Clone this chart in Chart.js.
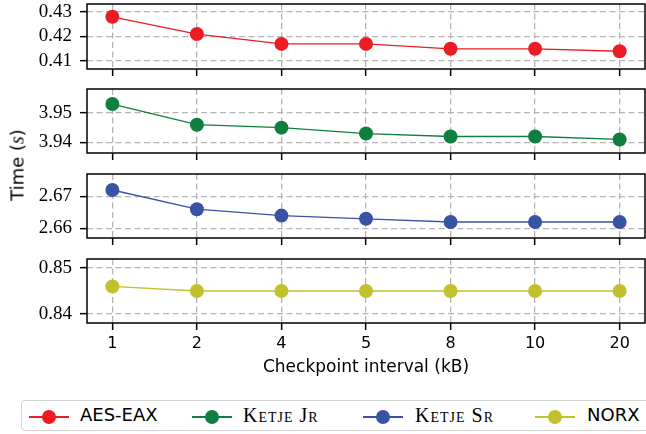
<!DOCTYPE html>
<html>
<head>
<meta charset="utf-8">
<script src="https://cdn.jsdelivr.net/npm/chart.js@4"></script>
<style>
  html, body { margin: 0; padding: 0; background: #fff; overflow: hidden; }
  #wrap { position: relative; width: 646px; height: 434px; overflow: hidden; }
  .panel { position: absolute; left: 0; width: 652px; }
  #ylabel {
    position: absolute; left: 17px; top: 165px;
    transform: translate(-50%, -50%) rotate(-90deg);
    font: 18px "DejaVu Sans"; white-space: nowrap; color: #000;
  }
  #ylabel i { font-family: "Liberation Serif"; font-size: 20px; }
  #legend {
    position: absolute; left: 21px; top: 400px; width: 640px; height: 31px;
    border: 1.5px solid #d4d4d4; border-radius: 4px; box-sizing: border-box;
  }
  .item { position: absolute; top: 0; height: 31px; }
  .sw { position: absolute; top: 15px; width: 40px; height: 1.5px; }
  .sw span { position: absolute; left: 13px; top: -6px; width: 14px; height: 14px; border-radius: 50%; }
  .txt { position: absolute; top: 3px; white-space: nowrap; color: #000; line-height: 24px; }
  .sans { font: 18px "DejaVu Sans"; }
  .sc { font: 20px "Liberation Serif"; font-variant: small-caps; letter-spacing: 1px; }
</style>
</head>
<body>
<div id="wrap">
  <div class="panel" id="p1"><canvas id="c1"></canvas></div>
  <div class="panel" id="p2"><canvas id="c2"></canvas></div>
  <div class="panel" id="p3"><canvas id="c3"></canvas></div>
  <div class="panel" id="p4"><canvas id="c4"></canvas></div>
  <div id="ylabel">Time (<i>s</i>)</div>
  <div id="legend"></div>
</div>
<script>
// データ
var xLabels = ['1', '2', '4', '5', '8', '10', '20'];
var aesEax = [0.428, 0.421, 0.417, 0.417, 0.415, 0.415, 0.414];
var ketjeJr = [3.953, 3.946, 3.945, 3.943, 3.942, 3.942, 3.941];
var ketjeSr = [2.672, 2.666, 2.664, 2.663, 2.662, 2.662, 2.662];
var norx = [0.846, 0.845, 0.845, 0.845, 0.845, 0.845, 0.845];

// 縦軸の目盛と範囲
var aesTicks = [0.41, 0.42, 0.43];
var jrTicks = [3.94, 3.95];
var srTicks = [2.66, 2.67];
var norxTicks = [0.84, 0.85];
var aesRange = [0.4068, 0.4332];
var jrRange = [3.9364, 3.9581];
var srRange = [2.6570, 2.6770];
var norxRange = [0.8380, 0.8520];

var seriesNames = ['AES-EAX', 'Ketje Jr', 'Ketje Sr', 'NORX'];
var colors = ['#ed1c24', '#0f7f3f', '#3953a4', '#c3c02d'];

Chart.defaults.color = '#000';
Chart.defaults.animation = false;

// 枠線（上下左右）
var frame = {
  id: 'frame',
  afterDatasetsDraw: function(chart) {
    var a = chart.chartArea, ctx = chart.ctx;
    ctx.save();
    ctx.strokeStyle = '#000';
    ctx.lineWidth = 1.5;
    ctx.strokeRect(a.left, a.top, a.right - a.left, a.bottom - a.top);
    ctx.restore();
  }
};

var PAD = 6;
var gridStyle = {
  color: '#b5b5b5',
  lineWidth: 1.3,
  drawTicks: true,
  tickLength: 7,
  tickColor: '#000',
  tickWidth: 1.5,
  tickBorderDash: []
};
// v4 ではグリッド線の破線は border.dash
var borderStyle = { display: false, dash: [6, 3.5] };

function makePanel(id, boxId, top, bottom, values, ticks, range, color, last) {
  var axisH = last ? 55 : 10;
  var box = document.getElementById(boxId);
  box.style.top = (top - PAD) + 'px';
  box.style.height = (PAD + (bottom - top) + axisH) + 'px';

  var pts = values.map(function(v, i) { return {x: i, y: v}; });

  return new Chart(document.getElementById(id), {
    type: 'line',
    data: {
      datasets: [{
        data: pts,
        borderColor: color,
        backgroundColor: color,
        borderWidth: 1.3,
        pointRadius: 7,
        pointHoverRadius: 7,
        pointBorderWidth: 0,
        tension: 0
      }]
    },
    options: {
      responsive: true,
      maintainAspectRatio: false,
      devicePixelRatio: 1,
      layout: { padding: { top: PAD, left: 0, right: 2, bottom: 0 } },
      plugins: { legend: { display: false }, tooltip: { enabled: false } },
      scales: {
        x: {
          type: 'linear',
          min: -0.3,
          max: 6.3,
          afterBuildTicks: function(s) {
            s.ticks = xLabels.map(function(_, i) { return {value: i}; });
          },
          afterFit: function(s) {
            s.height = axisH;
            s.paddingLeft = 0;
            s.paddingRight = 0;
          },
          border: borderStyle,
          grid: gridStyle,
          ticks: {
            display: last,
            padding: 4,
            maxRotation: 0,
            font: { family: '"DejaVu Sans"', size: 16 },
            callback: function(v) { return xLabels[v]; }
          },
          title: {
            display: last,
            text: 'Checkpoint interval (kB)',
            font: { family: '"DejaVu Sans"', size: 17 },
            padding: 0
          }
        },
        y: {
          min: range[0],
          max: range[1],
          afterBuildTicks: function(s) {
            s.ticks = ticks.map(function(v) { return {value: v}; });
          },
          afterFit: function(s) {
            s.width = 87;
            s.paddingTop = 0;
            s.paddingBottom = 0;
          },
          border: borderStyle,
          grid: gridStyle,
          ticks: {
            padding: 8,
            font: { family: '"Liberation Serif"', size: 19 },
            callback: function(v) { return v.toFixed(2); }
          }
        }
      }
    },
    plugins: [frame]
  });
}

makePanel('c1', 'p1', 3, 69, aesEax, aesTicks, aesRange, colors[0], false);
makePanel('c2', 'p2', 88, 153, ketjeJr, jrTicks, jrRange, colors[1], false);
makePanel('c3', 'p3', 173, 238, ketjeSr, srTicks, srRange, colors[2], false);
makePanel('c4', 'p4', 258, 323, norx, norxTicks, norxRange, colors[3], true);

// 凡例
var legend = document.getElementById('legend');
var swX = [7, 170, 341, 513];
var txX = [58, 221, 393, 565];
seriesNames.forEach(function(name, i) {
  var item = document.createElement('div');
  item.className = 'item';
  var sw = document.createElement('div');
  sw.className = 'sw';
  sw.style.left = swX[i] + 'px';
  sw.style.background = colors[i];
  var dot = document.createElement('span');
  dot.style.background = colors[i];
  sw.appendChild(dot);
  var t = document.createElement('div');
  t.className = 'txt ' + (name.indexOf('Ketje') === 0 ? 'sc' : 'sans');
  t.style.left = txX[i] + 'px';
  t.textContent = name;
  item.appendChild(sw);
  item.appendChild(t);
  legend.appendChild(item);
});
</script>
</body>
</html>
